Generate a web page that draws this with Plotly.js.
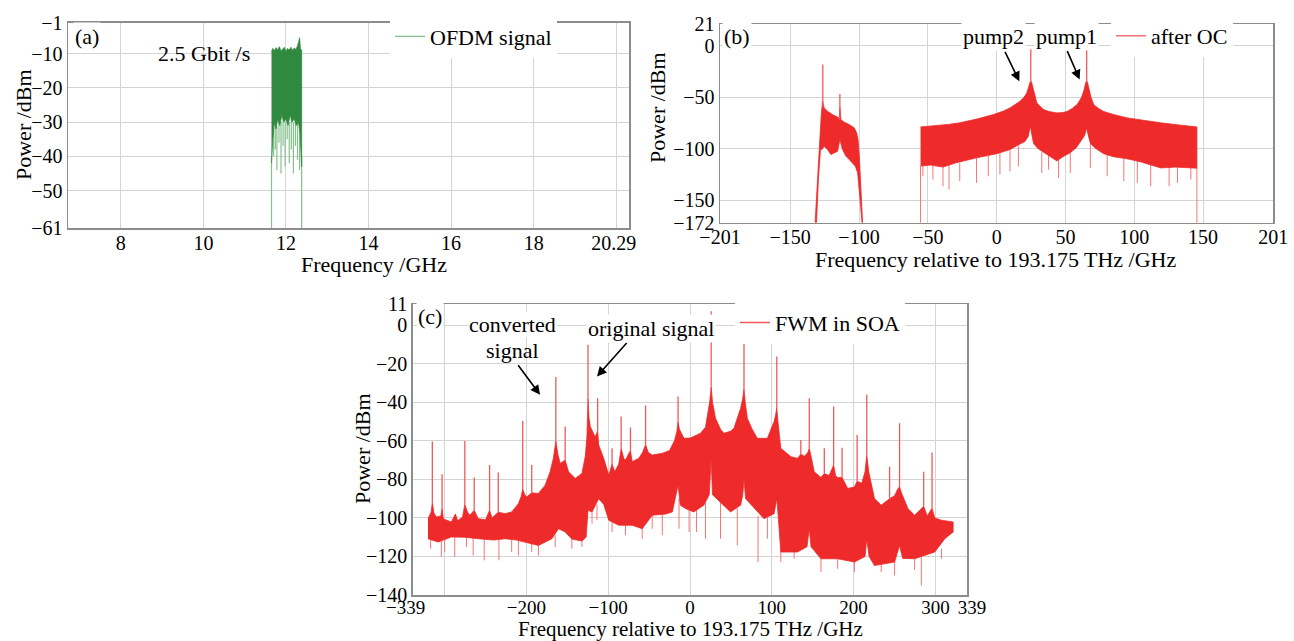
<!DOCTYPE html>
<html>
<head>
<meta charset="utf-8">
<script src="https://cdn.plot.ly/plotly-3.0.1.min.js"></script>
<style>html,body{margin:0;padding:0;background:#fff}#chart{width:1294px;height:641px}</style>
</head>
<body>
<div id="chart"></div>
<script>
// ---------- Panel (a): OFDM signal ----------
const aUpperF = [11.65, 11.68, 11.72, 11.76, 11.80, 11.84, 11.88, 11.92, 11.96, 12.00, 12.04, 12.08, 12.12, 12.16, 12.20, 12.24, 12.28, 12.31, 12.33, 12.35, 12.38];
const aUpperP = [-9.5, -8.5, -9.2, -8.3, -9.0, -8.0, -9.3, -8.6, -8.2, -9.4, -8.5, -9.0, -8.2, -9.1, -8.4, -8.8, -7.8, -6.5, -5.4, -8.6, -9.0];
const aLowerF = [11.65, 11.68, 11.72, 11.76, 11.80, 11.85, 11.90, 11.95, 12.00, 12.05, 12.10, 12.15, 12.20, 12.25, 12.30, 12.34, 12.36, 12.38];
const aLowerP = [-42, -35, -30, -32, -29, -31, -28, -30, -29, -31, -28, -30, -29, -31, -30, -33, -38, -43];
const aDipF = [11.65, 11.70, 11.74, 11.78, 11.83, 11.88, 11.93, 11.98, 12.03, 12.08, 12.13, 12.18, 12.23, 12.28, 12.33, 12.38];
const aDipFrom = [-40, -32, -30, -31, -29, -30, -29, -30, -29, -30, -29, -30, -29, -30, -32, -40];
const aDipTo = [-61, -40, -38, -44, -36, -45, -37, -43, -35, -42, -38, -45, -37, -41, -44, -61];
const aXTicks = [8, 10, 12, 14, 16, 18, 20];
const aXText = ['8', '10', '12', '14', '16', '18', '20.29\u00a0'];
const aYTicks = [-61, -50, -40, -30, -20, -10, -1];
const aYText = ['\u221261', '\u221250', '\u221240', '\u221230', '\u221220', '\u221210', '\u22121'];

// ---------- Panel (b): after OC ----------
const bLobeUpF = [-131.9, -130.2, -128.5, -127.5, -126.5, -125.3, -122.9, -119.3, -115.6, -114.4, -113.9, -113.1, -110.7, -107.1, -103.4, -101.7, -100.7, -99.8, -98.6, -97.4];
const bLobeUpP = [-172, -130, -91, -68.6, -54, -60.5, -63.7, -67, -69.3, -71, -60, -72, -74.4, -76.7, -79.9, -84.8, -91.3, -107.4, -139.8, -172];
const bLobeLoF = [-130.9, -129.5, -128.0, -127.0, -125.3, -122.9, -120.4, -118.0, -115.6, -113.9, -112.0, -109.5, -107.1, -104.7, -102.7, -101.0, -99.8, -98.8, -97.8];
const bLobeLoP = [-172, -130, -101, -101, -97.7, -101, -105.8, -104.2, -102.6, -91.3, -101, -107.4, -110.7, -113.9, -117.1, -123.6, -136.6, -156, -172];
const bMainUpF = [-55.3, -45, -35, -26.8, -15, -2.4, 5, 9.7, 14, 17, 20, 21.9, 23.3, 24.4, 25.3, 26.3, 27.5, 29.2, 31.5, 34, 38, 43.8, 48, 51.1, 55, 58.4, 60.5, 62, 63.5, 64.9, 65.9, 66.9, 68.5, 70.5, 74, 77.8, 85, 94.9, 105, 119.2, 132, 145.5];
const bMainUpP = [-79, -78, -76.5, -75, -71.5, -67, -63.5, -60.5, -57, -54, -50, -46, -40, -35, -35, -40, -48, -55.7, -59, -62, -64, -65.4, -65, -64, -61, -57.3, -53, -49.2, -43, -35, -35, -42, -50, -57.3, -61, -64, -67, -70.2, -72.5, -75, -77, -79];
const bMainLoF = [-55.3, -48, -39, -30, -14.6, 0, 9.7, 15, 20.7, 23, 24.4, 25.8, 26.8, 30, 34, 39, 43.8, 48, 53.5, 58, 62, 64, 65.2, 66.5, 68.1, 72, 77.8, 85, 94.9, 105, 119.2, 130, 145.5];
const bMainLoP = [-117, -116, -118, -114, -109, -105, -101, -97, -93, -88, -78, -88, -95, -100, -104, -108, -112, -108, -104, -99, -91, -87, -80, -88, -95, -100, -105, -108, -110, -113, -118.8, -118, -119];
const bDipF = [-55.3, -53.6, -46.3, -39.0, -34.6, -26.8, -14.6, -6.1, 2.4, 9.7, 15.8, 32.8, 37.7, 45.0, 53.5, 68.1, 80.3, 92.4, 102.2, 111.9, 125.3, 131.4, 141.1, 145.5];
const bDipFrom = [-117, -117, -116, -118, -116, -114, -109, -107, -104, -101, -97, -103, -106, -111, -104, -95, -106, -110, -112, -114, -118, -118, -118, -119];
const bDipTo = [-172, -126.9, -130.1, -136.6, -139.8, -131.7, -133.3, -126.9, -125.2, -122, -117.2, -123.6, -120.4, -128.4, -123.6, -118.8, -126.9, -131.7, -133.3, -136.6, -136.6, -133.3, -130.1, -172];
const bSpikeF = [-126.3, -113.9, 24.8, 65.4];
const bSpikeFrom = [-60, -72, -36, -36];
const bSpikeTo = [-18.4, -46.9, -3.5, -3.5];
const bXTicks = [-201, -150, -100, -50, 0, 50, 100, 150, 201];
const bXText = ['\u2212201', '\u2212150', '\u2212100', '\u221250', '0', '50', '100', '150', '201'];
const bYTicks = [-172, -150, -100, -50, 0, 21];
const bYText = ['\u2212172', '\u2212150', '\u2212100', '\u221250', '0', '21'];

// ---------- Panel (c): FWM in SOA ----------
const cUpF = [-320.3, -316.5, -315.0, -313.0, -310.1, -304.5, -303.1, -301.5, -291.7, -286.8, -284.0, -278.0, -275.3, -272.0, -269.2, -263.8, -258.9, -250.0, -245.0, -242.0, -234.4, -226.2, -218.0, -209.8, -206.5, -204.5, -202.0, -199.6, -193.5, -185.3, -177.1, -171.0, -167.0, -164.0, -161.5, -158.7, -152.6, -148.5, -140.3, -132.1, -128.0, -126.0, -124.7, -123.5, -121.9, -116.0, -112.9, -111.6, -105.5, -99.3, -95.3, -92.0, -87.1, -84.2, -81.0, -78.9, -72.8, -70.7, -62.5, -58.0, -54.3, -51.0, -46.2, -33.9, -25.0, -19.0, -16.0, -14.6, -13.0, -11.8, -7.4, 0.5, 12.8, 18.9, 21.0, 24.0, 25.9, 27.5, 31.2, 37.3, 41.4, 49.6, 53.7, 61.9, 64.5, 66.0, 67.5, 70.1, 76.0, 82.3, 94.6, 102.8, 104.5, 106.1, 107.5, 111.0, 123.3, 131.4, 135.5, 140.0, 144.0, 145.8, 148.0, 151.9, 160.1, 164.2, 170.0, 175.6, 178.0, 180.5, 185.9, 192.8, 201.0, 204.3, 210.0, 214.0, 216.1, 218.5, 225.5, 233.7, 244.0, 250.1, 254.0, 256.2, 258.5, 266.5, 274.6, 285.7, 290.0, 295.9, 299.2, 307.4, 321.7];
const cUpP = [-100.4, -97, -92, -97.5, -99.5, -99, -95, -100.5, -102.1, -98, -101.5, -99.5, -93, -97, -98.6, -96, -100.4, -101, -96, -100, -97, -97.8, -96.9, -92.6, -89, -85, -88, -89.1, -87, -87.3, -83, -76.1, -69, -60, -67, -71.7, -70, -76.1, -79.5, -76.9, -68, -58, -38, -48, -52.6, -58, -55, -62.2, -69.1, -77.8, -72, -76, -72, -64, -69, -70, -65, -70.8, -69, -66, -62, -66, -67.4, -66.5, -65, -60, -55, -50, -54, -55.2, -58.7, -58.5, -56.1, -53, -48.3, -40, -32, -40, -48.3, -54, -56.1, -55, -53.5, -43.1, -38, -33, -40, -48.3, -54, -58.7, -58.7, -50, -47, -43, -50, -63.9, -68.2, -69.1, -67, -68, -66, -64, -68, -76.1, -79, -77, -78, -72.6, -78, -79, -79, -84.7, -84, -81, -82, -76, -67.4, -76, -89.9, -93.4, -90, -88.5, -85, -83.9, -87, -95.2, -98.6, -94, -99, -95, -100, -101.2, -102.1];
const cLoF = [-320.3, -308.0, -291.7, -275.3, -258.9, -240.0, -226.2, -212.0, -201.7, -185.3, -168.9, -160.7, -152.6, -144.4, -132.1, -127.0, -124.7, -119.8, -111.6, -105.5, -99.3, -87.1, -70.7, -58.4, -46.2, -29.8, -21.6, -14.6, -11.8, -5.2, 4.6, 16.9, 23.5, 25.9, 27.5, 33.2, 49.6, 61.9, 64.5, 66.0, 68.0, 90.5, 102.8, 106.1, 108.0, 111.0, 131.4, 143.0, 145.8, 148.0, 160.1, 180.5, 201.0, 214.0, 216.1, 219.0, 225.5, 250.1, 256.2, 260.0, 274.6, 299.2, 311.5, 321.7];
const cLoP = [-110.8, -112.5, -109.9, -110, -110.8, -111.5, -110.8, -111.5, -112.5, -114.3, -110.8, -105.6, -107.3, -111, -112, -110, -96, -96.9, -90, -93, -101.2, -103.8, -103.8, -105.6, -98.6, -98, -96.9, -83, -93.4, -95.2, -96.9, -93.4, -88, -69.1, -88, -89.9, -96.9, -93.4, -88, -79.5, -90, -100.4, -97.8, -90, -100, -117.7, -117.7, -115, -105.6, -115, -121.2, -121.2, -122.9, -120, -110.8, -120, -124.7, -122.9, -114.3, -121, -121.2, -117.7, -110.8, -107.3];
const cDipF = [-317.1, -304.0, -299.9, -287.6, -273.3, -265.1, -251.6, -233.6, -218.0, -209.8, -193.5, -185.3, -164.8, -144.4, -132.1, -119.8, -113.7, -95.3, -78.9, -58.4, -46.2, -33.9, -13.4, -1.1, 8.0, 18.9, 37.3, 57.8, 83.2, 94.6, 111.0, 127.3, 160.1, 180.5, 201.0, 233.7, 250.1, 274.6, 282.8, 307.4];
const cDipFrom = [-110, -112, -111, -110, -110, -110, -111, -111, -111, -111, -113, -114, -109, -110, -111, -96, -93, -102, -103, -105, -98, -98, -90, -96, -96, -92, -92, -95, -99, -100, -117, -117, -121, -121, -122, -123, -122, -121, -120, -116];
const cDipTo = [-116.0, -120.3, -117.7, -120.3, -115.1, -119.5, -122.0, -122.0, -117.7, -119.5, -117.7, -119.5, -115.1, -116.0, -115, -103, -101, -107.3, -109.0, -110.8, -105.6, -109.0, -105.6, -107.3, -107.3, -110.8, -110.8, -114.3, -122.9, -110.8, -122.9, -121.2, -128.1, -126.4, -128.1, -128.1, -129.9, -127.0, -135.1, -121.2];
const cSpikeF = [-315.0, -303.1, -275.3, -263.8, -245.0, -234.4, -204.5, -193.5, -164.0, -152.6, -124.7, -112.9, -95.3, -84.2, -72.8, -54.3, -14.6, 25.9, 66.0, 106.1, 135.5, 145.8, 164.2, 175.6, 185.9, 204.3, 216.1, 244.0, 256.2, 285.7, 295.9];
const cSpikeFrom = [-92, -95, -93, -96, -96, -97, -85, -87, -60, -70, -38, -55, -72, -64, -65, -62, -50, -32, -33, -43, -67, -64, -77, -72.6, -79, -81, -67.4, -90, -83.9, -94, -95];
const cSpikeTo = [-60.4, -77.4, -60.1, -79.0, -72.6, -76.4, -49.7, -72.6, -26.9, -52.6, -10.1, -37.9, -63.9, -47.4, -53.1, -41.7, -37.0, 7.3, 2.9, -16.2, -59.6, -37.9, -63.9, -42.2, -63.6, -57.0, -36.1, -73.5, -50.9, -76.1, -66.0];
const cXTicks = [-339, -300, -200, -100, 0, 100, 200, 300, 339];
const cXText = ['\u2212339\u00a0\u00a0\u00a0', '', '\u2212200', '\u2212100', '0', '100', '200', '300', '\u00a0\u00a0339'];
const cYTicks = [-140, -120, -100, -80, -60, -40, -20, 0, 11];
const cYText = ['\u2212140', '\u2212120', '\u2212100', '\u221280', '\u221260', '\u221240', '\u221220', '0', '11'];

// ---------- helpers ----------
const FONT = 'Liberation Serif';
const RED = '#ee2a2a', RED_LIGHT = '#f47676', RED_SPIKE = '#f05a5a';
const GREEN = '#2f8a3f', GREEN_LIGHT = '#86c08d';

function band(xU, yU, xL, yL, color, xa, ya, group) {
  return {x: xU.concat(xL.slice().reverse()), y: yU.concat(yL.slice().reverse()),
    type: 'scatter', mode: 'lines', fill: 'toself', fillcolor: color,
    line: {color: color, width: 0.8}, xaxis: xa, yaxis: ya, hoverinfo: 'skip',
    showlegend: false, legendgroup: group};
}
function segs(f, from, to, color, width, xa, ya, name, legend, show, group) {
  const x = [], y = [];
  for (let i = 0; i < f.length; i++) { x.push(f[i], f[i], null); y.push(from[i], to[i], null); }
  return {x: x, y: y, type: 'scatter', mode: 'lines', line: {color: color, width: width},
    xaxis: xa, yaxis: ya, name: name, legend: legend, showlegend: show,
    legendgroup: group, hoverinfo: 'skip'};
}

const traces = [
  segs(aDipF, aDipFrom, aDipTo, GREEN_LIGHT, 1.2, 'x', 'y', 'OFDM signal', 'legend', true, 'a'),
  band(aUpperF, aUpperP, aLowerF, aLowerP, GREEN, 'x', 'y', 'a'),

  segs(bDipF, bDipFrom, bDipTo, RED_LIGHT, 1, 'x2', 'y2', 'after OC dips', 'legend2', false, 'b'),
  band(bLobeUpF, bLobeUpP, bLobeLoF, bLobeLoP, RED, 'x2', 'y2', 'b'),
  band(bMainUpF, bMainUpP, bMainLoF, bMainLoP, RED, 'x2', 'y2', 'b'),
  segs(bSpikeF, bSpikeFrom, bSpikeTo, RED_SPIKE, 1.3, 'x2', 'y2', 'after OC', 'legend2', true, 'b'),

  segs(cDipF, cDipFrom, cDipTo, RED_LIGHT, 1, 'x3', 'y3', 'FWM dips', 'legend3', false, 'c'),
  band(cUpF, cUpP, cLoF, cLoP, RED, 'x3', 'y3', 'c'),
  segs(cSpikeF, cSpikeFrom, cSpikeTo, RED_SPIKE, 1.3, 'x3', 'y3', 'FWM in SOA', 'legend3', true, 'c')
];

const W = 1294, H = 641;
const px = v => v / W, py = v => 1 - v / H;

function axis(dom, range, tv, tt, fs, stand) {
  return {domain: dom, range: range, tickmode: 'array', tickvals: tv, ticktext: tt,
    showline: true, mirror: true, linecolor: '#8c8c8c', linewidth: 1.5,
    showgrid: true, gridcolor: '#d4d4d4', gridwidth: 1, zeroline: false, ticks: '', ticklen: 0,
    tickangle: 0, automargin: false, ticklabelstandoff: stand,
    tickfont: {family: FONT, size: fs, color: '#000'}, fixedrange: true,
    title: {text: ''}};
}
function xTitle(text, cx, cy, fs) {
  return {xref: 'paper', yref: 'paper', x: px(cx), y: py(cy), xanchor: 'center', yanchor: 'middle', text: text, showarrow: false, font: {family: FONT, size: fs, color: '#000'}};
}
function yTitle(text, cx, cy) {
  return {xref: 'paper', yref: 'paper', x: px(cx), y: py(cy), xanchor: 'center', yanchor: 'middle', text: text, textangle: -90, showarrow: false, font: {family: FONT, size: 22, color: '#000'}};
}

const layout = {
  width: W, height: H, margin: {l: 0, r: 0, t: 0, b: 0},
  paper_bgcolor: '#fff', plot_bgcolor: '#fff',
  font: {family: FONT, size: 22, color: '#000'},
  xaxis: Object.assign(axis([px(68), px(629)], [6.72, 20.31], aXTicks, aXText, 20, -4), {anchor: 'y'}),
  yaxis: Object.assign(axis([py(228.3), py(22.7)], [-61, -1], aYTicks, aYText, 20, 0), {anchor: 'x'}),
  xaxis2: Object.assign(axis([px(720), px(1273.3)], [-201, 201], bXTicks, bXText, 20, -4), {anchor: 'y2'}),
  yaxis2: Object.assign(axis([py(222.7), py(24)], [-172, 21], bYTicks, bYText, 20, 0), {anchor: 'x2'}),
  xaxis3: Object.assign(axis([px(412.7), px(967.3)], [-339, 339], cXTicks, cXText, 19, -5), {anchor: 'y3'}),
  yaxis3: Object.assign(axis([py(595), py(304)], [-140, 11], cYTicks, cYText, 20, 0), {anchor: 'x3'}),
  legend: {x: px(390), y: py(36.5), xanchor: 'left', yanchor: 'middle', bgcolor: '#fff', borderwidth: 0, itemwidth: 30, font: {family: FONT, size: 22}},
  legend2: {x: px(1111), y: py(36), xanchor: 'left', yanchor: 'middle', bgcolor: '#fff', borderwidth: 0, itemwidth: 30, font: {family: FONT, size: 22}},
  legend3: {x: px(735), y: py(322.7), xanchor: 'left', yanchor: 'middle', bgcolor: '#fff', borderwidth: 0, itemwidth: 30, font: {family: FONT, size: 22}},
  annotations: [
    xTitle('Frequency /GHz', 374, 264.7, 22),
    yTitle('Power /dBm', 23, 125),
    xTitle('Frequency relative to 193.175 THz /GHz', 996, 259, 22),
    yTitle('Power /dBm', 657, 107),
    xTitle('Frequency relative to 193.175 THz /GHz', 690, 629, 21),
    yTitle('Power /dBm', 362, 449),
    {xref: 'x', yref: 'y', x: 6.84, y: -4.9, xanchor: 'left', text: '(a)', showarrow: false, bgcolor: '#fff', font: {size: 22}},
    {xref: 'x', yref: 'y', x: 10.02, y: -10, text: '2.5 Gbit /s', showarrow: false, font: {size: 22}},
    {xref: 'x2', yref: 'y2', x: -199.5, y: 8.7, xanchor: 'left', text: '(b)', showarrow: false, bgcolor: '#fff', font: {size: 22}},
    {xref: 'x2', yref: 'y2', x: -2.0, y: 8.7, text: 'pump2', showarrow: false, bgcolor: '#fff', font: {size: 22}},
    {xref: 'x2', yref: 'y2', x: 50.9, y: 8.7, text: 'pump1', showarrow: false, bgcolor: '#fff', font: {size: 22}},
    {xref: 'x2', yref: 'y2', x: 16.5, y: -34.7, ax: -15, ay: -31, text: '', showarrow: true, arrowhead: 2, arrowsize: 1.2, arrowwidth: 1.6, arrowcolor: '#000'},
    {xref: 'x2', yref: 'y2', x: 60.3, y: -33, ax: -13, ay: -30, text: '', showarrow: true, arrowhead: 2, arrowsize: 1.2, arrowwidth: 1.6, arrowcolor: '#000'},
    {xref: 'x3', yref: 'y3', x: -334.6, y: 4.7, xanchor: 'left', text: '(c)', showarrow: false, bgcolor: '#fff', font: {size: 22}},
    {xref: 'x3', yref: 'y3', x: -216.8, y: 0.4, text: 'converted', showarrow: false, bgcolor: '#fff', font: {size: 22}, borderpad: 0},
    {xref: 'x3', yref: 'y3', x: -216.8, y: -13.2, text: 'signal', showarrow: false, font: {size: 22}, borderpad: 0},
    {xref: 'x3', yref: 'y3', x: -47.4, y: -1.8, text: 'original signal', showarrow: false, bgcolor: '#fff', font: {size: 22}},
    {xref: 'x3', yref: 'y3', x: -183.3, y: -36.1, ax: -23, ay: -31, text: '', showarrow: true, arrowhead: 2, arrowsize: 1.2, arrowwidth: 1.6, arrowcolor: '#000'},
    {xref: 'x3', yref: 'y3', x: -113.7, y: -26.6, ax: 31, ay: -35, text: '', showarrow: true, arrowhead: 2, arrowsize: 1.2, arrowwidth: 1.6, arrowcolor: '#000'}
  ]
};

Plotly.newPlot('chart', traces, layout, {staticPlot: true, displayModeBar: false});
</script>
</body>
</html>
